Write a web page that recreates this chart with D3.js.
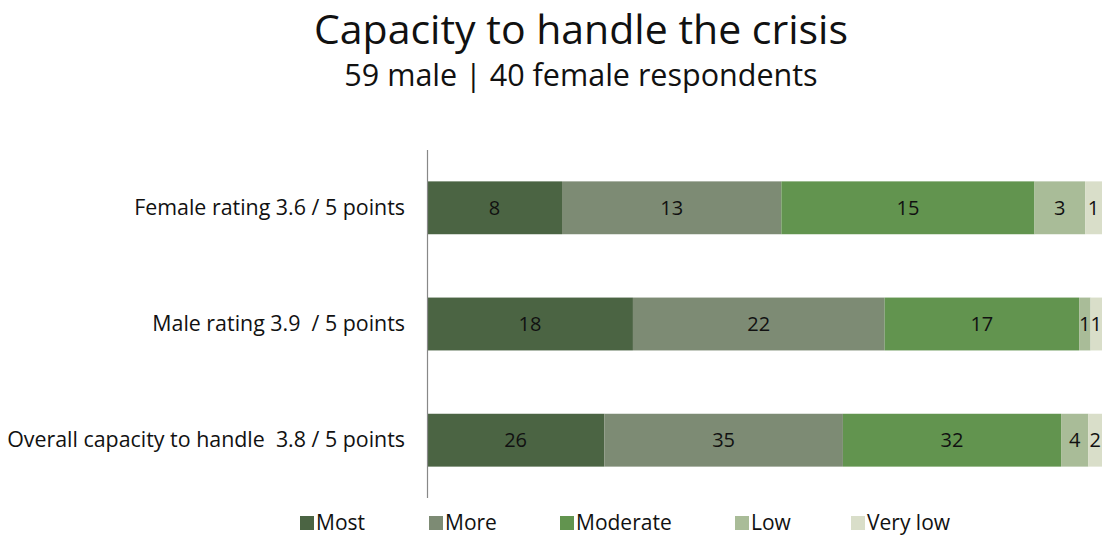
<!DOCTYPE html>
<html>
<head>
<meta charset="utf-8">
<script src="https://cdn.jsdelivr.net/npm/d3@7"></script>
<style>
  html, body { margin: 0; padding: 0; background: #fff; }
  svg { display: block; }
</style>
</head>
<body>
<svg id="chart" width="1105" height="537"></svg>
<script>
// Response groups, top to bottom
const categories = [
  "Female rating 3.6 / 5 points",
  "Male rating 3.9  / 5 points",
  "Overall capacity to handle  3.8 / 5 points"
];
// Answer levels and their colours
const levels = ["Most", "More", "Moderate", "Low", "Very low"];
const levelColors = ["#4b6443", "#7d8b74", "#62944f", "#a9bc98", "#d9dec9"];
// Number of respondents per level, one array per group
const femaleCounts = [8, 13, 15, 3, 1];
const maleCounts = [18, 22, 17, 1, 1];
const overallCounts = [26, 35, 32, 4, 2];
const seriesCounts = [femaleCounts, maleCounts, overallCounts];

const svg = d3.select("#chart");
const plot = { left: 427, right: 1102, top: 150, bottom: 498 };
const font = "'Open Sans', sans-serif";

// Titles
svg.append("text")
  .attr("x", 581).attr("y", 44)
  .attr("text-anchor", "middle")
  .attr("font-family", font)
  .attr("font-size", 41)
  .attr("fill", "#111")
  .text("Capacity to handle the crisis");
svg.append("text")
  .attr("x", 581).attr("y", 86)
  .attr("text-anchor", "middle")
  .attr("font-family", font)
  .attr("font-size", 30.5)
  .attr("fill", "#111")
  .text("59 male | 40 female respondents");

// Scales: each bar shows shares of its group's total
const x = d3.scaleLinear().domain([0, 1]).range([plot.left, plot.right]);
const y = d3.scaleBand().domain(categories).range([plot.top, plot.bottom]).paddingInner(0.545).paddingOuter(0.27);

// Stacked rows
const rows = categories.map((c, i) => {
  const vals = seriesCounts[i];
  const total = d3.sum(vals);
  let acc = 0;
  return vals.map((v, j) => {
    const seg = { cat: c, level: levels[j], value: v, x0: acc / total, x1: (acc + v) / total, color: levelColors[j] };
    acc += v;
    return seg;
  });
});

const barG = svg.append("g");
rows.forEach(segs => {
  const g = barG.append("g");
  g.selectAll("rect").data(segs).join("rect")
    .attr("x", d => x(d.x0))
    .attr("y", d => y(d.cat))
    .attr("width", d => x(d.x1) - x(d.x0))
    .attr("height", y.bandwidth())
    .attr("fill", d => d.color);
  g.selectAll("text").data(segs).join("text")
    .attr("x", d => (x(d.x0) + x(d.x1)) / 2)
    .attr("y", d => y(d.cat) + y.bandwidth() / 2)
    .attr("dy", "0.36em")
    .attr("text-anchor", "middle")
    .attr("font-family", font)
    .attr("font-size", 20)
    .attr("fill", "#111")
    .text(d => d.value);
});

// Category axis
const yAxis = svg.append("g")
  .attr("transform", `translate(${plot.left},0)`)
  .call(d3.axisLeft(y).tickSize(0).tickPadding(22));
yAxis.select(".domain").attr("d", `M0.5,${plot.top}V${plot.bottom}`).attr("stroke", "#888").attr("stroke-width", 1.2);
yAxis.selectAll("text")
  .attr("font-family", font)
  .attr("font-size", 21.4)
  .attr("fill", "#111")
  .style("white-space", "pre")
  .attr("xml:space", "preserve");

// Legend
const legendX = [300, 429, 560, 735, 851];
const lg = svg.append("g");
levels.forEach((l, i) => {
  const g = lg.append("g").attr("transform", `translate(${legendX[i]},523)`);
  g.append("rect").attr("x", 0).attr("y", -7).attr("width", 14).attr("height", 14).attr("fill", levelColors[i]);
  g.append("text").attr("x", 16).attr("y", 0).attr("dy", "0.35em")
    .attr("font-family", font)
    .attr("font-size", 21)
    .attr("fill", "#111")
    .text(l);
});
</script>
</body>
</html>
